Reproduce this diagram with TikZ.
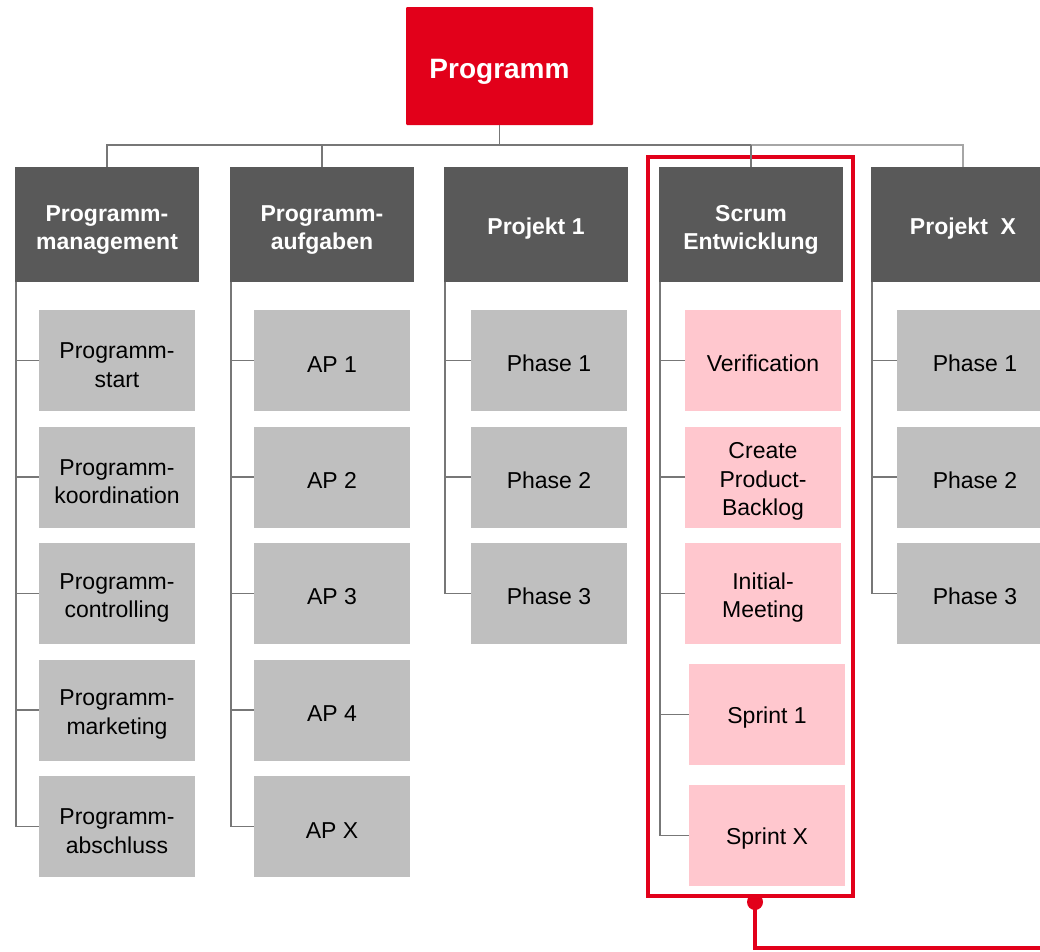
\documentclass[tikz,border=0pt]{standalone}
\usepackage{fontspec}
\setmainfont{Liberation Sans}
\definecolor{progred}{HTML}{E2001A}
\definecolor{hdrgray}{HTML}{595959}
\definecolor{itemgray}{HTML}{BFBFBF}
\definecolor{itempink}{HTML}{FFC7CE}
\definecolor{linegray}{HTML}{777777}
\definecolor{lightline}{HTML}{A6A6A6}
\newcommand{\itemstrut}{\rule{0pt}{25pt}}
\newcommand{\hdrstrut}{\rule{0pt}{27pt}}
\begin{document}
\begin{tikzpicture}[x=1pt,y=-1pt,
  topbox/.style={fill=progred, text=white, font=\bfseries\fontsize{28}{32}\selectfont,
    minimum width=187pt, minimum height=118pt, inner sep=0pt, rounded corners=1pt,
    execute at begin node={\rule{0pt}{30pt}}},
  hdr/.style={fill=hdrgray, text=white, font=\bfseries\fontsize{23}{28}\selectfont,
    minimum width=184pt, minimum height=115pt, inner sep=0pt, align=center,
    execute at begin node={\rule{0pt}{25pt}}},
  item/.style={fill=itemgray, text=black, font=\fontsize{23}{28.5}\selectfont,
    minimum width=156pt, minimum height=101pt, inner sep=0pt, align=center,
    execute at begin node={\rule{0pt}{23pt}}},
  pitem/.style={item, fill=itempink},
  conn/.style={draw=linegray, line width=1.8pt},
  lconn/.style={draw=lightline, line width=1.8pt},
  hlbox/.style={draw=progred, line width=4pt, minimum width=205pt, minimum height=738.5pt, inner sep=0pt},
  redline/.style={draw=progred, line width=3.5pt}
]
\useasboundingbox (0,0) rectangle (1040,951);
\clip (0,0) rectangle (1040,951);

% top
\node[topbox] (top) at (499.5,66) {Programm};

% headers
\node[hdr] (h1) at (107,224.5) {\hdrstrut Programm-\\management};
\node[hdr] (h2) at (322,224.5) {\hdrstrut Programm-\\aufgaben};
\node[hdr] (h3) at (536,224.5) {Projekt 1};
\node[hdr] (h4) at (751,224.5) {\hdrstrut Scrum\\Entwicklung};
\node[hdr] (h5) at (963,224.5) {Projekt\ \ X};

% column 1
\node[item] (a1) at (117,360.5) {\itemstrut Programm-\\start};
\node[item] (a2) at (117,477) {\itemstrut Programm-\\koordination};
\node[item] (a3) at (117,593.5) {\itemstrut Programm-\\controlling};
\node[item] (a4) at (117,710) {\itemstrut Programm-\\marketing};
\node[item] (a5) at (117,826.5) {\itemstrut Programm-\\abschluss};

% column 2
\node[item] (b1) at (332,360.5) {AP 1};
\node[item] (b2) at (332,477) {AP 2};
\node[item] (b3) at (332,593.5) {AP 3};
\node[item] (b4) at (332,710) {AP 4};
\node[item] (b5) at (332,826.5) {AP X};

% column 3
\node[item] (c1) at (549,360.5) {Phase 1};
\node[item] (c2) at (549,477) {Phase 2};
\node[item] (c3) at (549,593.5) {Phase 3};

% column 4
\node[pitem] (d1) at (763,360.5) {Verification};
\node[pitem] (d2) at (763,477) {\itemstrut Create\\Product-\\Backlog};
\node[pitem] (d3) at (763,593.5) {\itemstrut Initial-\\Meeting};
\node[pitem] (d4) at (767,714.5) {Sprint 1};
\node[pitem] (d5) at (767,835.5) {Sprint X};

% column 5
\node[item] (e1) at (975,360.5) {Phase 1};
\node[item] (e2) at (975,477) {Phase 2};
\node[item] (e3) at (975,593.5) {Phase 3};

% highlight
\node[hlbox] (hl) at (750.5,526.25) {};
\node[circle, fill=progred, minimum size=16pt, inner sep=0pt] (dot) at (755,902) {};
\coordinate (rend) at (1045,948);
\draw[redline] (dot.center) |- (rend);

% top connectors
\coordinate (bar) at (499.5,145);
\draw[conn] (top.south) -- (top.south |- bar);
\draw[conn] (h1.north) -- (h1.north |- bar) -- (h4.north |- bar);
\draw[lconn] (h4.north |- bar) -- (h5.north |- bar) -- (h5.north);
\draw[conn] (h2.north) -- (h2.north |- bar);
\draw[conn] (h4.north) -- (h4.north |- bar);

% spines and branches
\foreach \h/\c/\n in {h1/a/5, h2/b/5, h3/c/3, h4/d/5, h5/e/3}{
  \draw[conn] ([xshift=0.9pt]\h.south west) -- ([xshift=0.9pt]\h.south west |- \c\n.west);
  \foreach \i in {1,...,\n}{
    \draw[conn] ([xshift=0.9pt]\h.south west |- \c\i.west) -- (\c\i.west);
  }
}
\end{tikzpicture}
\end{document}
